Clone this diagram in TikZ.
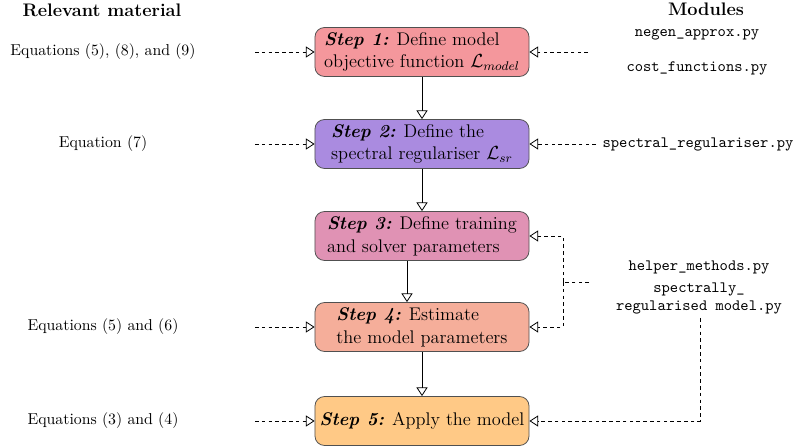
\documentclass[tikz,border=0pt]{standalone}
\usetikzlibrary{arrows.meta}
\definecolor{cA}{RGB}{244,151,156}
\definecolor{cB}{RGB}{170,139,224}
\definecolor{cC}{RGB}{224,146,180}
\definecolor{cD}{RGB}{245,174,154}
\definecolor{cE}{RGB}{255,201,134}
\definecolor{edge}{RGB}{80,80,80}
\tikzset{
  stepbox/.style={draw=edge, line width=0.5pt, rounded corners=6pt, minimum width=135.5pt, minimum height=31pt, align=left, font=\fontsize{11.6}{14.4}\selectfont, inner sep=2pt},
  hdr/.style={font=\fontsize{11.5}{14}\selectfont\bfseries},
  eqtext/.style={font=\normalsize},
  modtext/.style={font=\ttfamily},
  solidarrow/.style={draw, line width=0.5pt, -{Triangle[open, length=5.5pt, width=7pt]}},
  dasharrow/.style={draw, line width=0.5pt, dash pattern=on 2.3pt off 2pt, -{Triangle[open, length=5.5pt, width=7pt]}},
  dashline/.style={draw, line width=0.5pt, dash pattern=on 2.3pt off 2pt},
}
\begin{document}
\begin{tikzpicture}[x=0.633pt, y=-0.633pt]
\useasboundingbox (0,0) rectangle (793,448);
% headers
\node[hdr] (hl) at (102,10) {Relevant material};
\node[hdr] (hr) at (706,9) {Modules};
% step boxes
\node[stepbox, fill=cA] (s1) at (422,52) {\textbf{\textit{Step 1:}} Define model\\objective function $\mathcal{L}_{model}$};
\node[stepbox, fill=cB] (s2) at (422,144) {\textbf{\textit{Step 2:}} Define the\\spectral regulariser $\mathcal{L}_{sr}$};
\node[stepbox, fill=cC] (s3) at (422,236) {\textbf{\textit{Step 3:}} Define training\\and solver parameters};
\node[stepbox, fill=cD] (s4) at (422,327) {\textbf{\textit{Step 4:}} Estimate\\the model parameters};
\node[stepbox, fill=cE] (s5) at (422,421) {\textbf{\textit{Step 5:}} Apply the model};
% left texts
\node[eqtext] (e1) at (103,52) {Equations (5), (8), and (9)};
\node[eqtext] (e2) at (103,144) {Equation (7)};
\node[eqtext] (e4) at (103,327) {Equations (5) and (6)};
\node[eqtext] (e5) at (103,421) {Equations (3) and (4)};
% module texts
\node[modtext] (m1) at (697,35) {negen\_approx.py};
\node[modtext] (m1b) at (697,68) {cost\_functions.py};
\node[modtext] (m2) at (698,144) {spectral\_regulariser.py};
\node[modtext] (m3) at (699,267) {helper\_methods.py};
\node[modtext] (m3b) at (699,289) {spectrally\_};
\node[modtext] (m3c) at (699,307) {regularised model.py};
% solid arrows
\draw[solidarrow] (s1) -- (s2);
\draw[solidarrow] (s2) -- (s3);
\draw[solidarrow] ([xshift=-9.5pt]s3.south) -- ([xshift=-9.5pt]s4.north);
\draw[solidarrow] (s4) -- (s5);
% left dashed arrows
\coordinate (l1) at (255,52);
\coordinate (l2) at (255,144);
\coordinate (l4) at (255,327);
\coordinate (l5) at (255,421);
\draw[dasharrow] (l1) -- (s1.west);
\draw[dasharrow] (l2) -- (s2.west);
\draw[dasharrow] (l4) -- (s4.west);
\draw[dasharrow] (l5) -- (s5.west);
% right dashed arrows
\coordinate (r1) at (588,52);
\coordinate (r2) at (596,144);
\draw[dasharrow] (r1) -- (s1.east);
\draw[dasharrow] (r2) -- (s2.east);
\coordinate (j) at (589,282);
\coordinate (jm) at (563,282);
\draw[dashline] (j) -- (jm);
\draw[dasharrow] (jm) |- (s3.east);
\draw[dasharrow] (jm) |- (s4.east);
\coordinate (k) at (700,318);
\draw[dasharrow] (k) |- (s5.east);
\end{tikzpicture}
\end{document}
